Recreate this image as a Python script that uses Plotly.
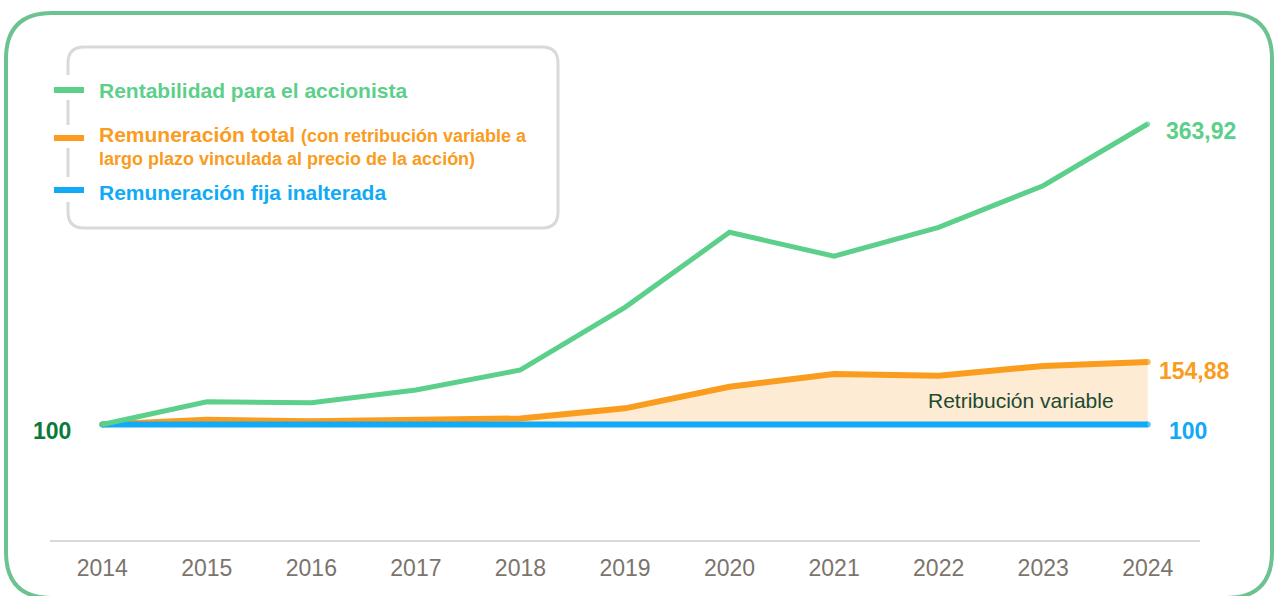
import plotly.graph_objects as go

# ---- data -------------------------------------------------------------
years = [2014, 2015, 2016, 2017, 2018, 2019, 2020, 2021, 2022, 2023, 2024]
rentabilidad = [100, 120.0, 119.1, 130.3, 147.9, 202.9, 268.8, 247.8, 273.2, 309.7, 363.92]
remuneracion_total = [100, 104.2, 102.8, 103.4, 105.3, 114.2, 133.2, 144.4, 142.9, 151.4, 154.88]
remuneracion_fija = [100] * len(years)
year_labels = [str(y) for y in years]

end_label_green = "363,92"
end_label_orange = "154,88"
end_label_blue = "100"
start_label = "100"

# ---- styling ----------------------------------------------------------
W, H = 1279, 596
GREEN = "#5CD08A"
ORANGE = "#FA9C1D"
BLUE = "#10AAF6"
FILL = "#FEEBD3"
DARK_GREEN = "#0B7A38"
BORDER_GREEN = "#6CC391"
GRID_GRAY = "#D9D9D9"
TICK_GRAY = "#7B746D"
FONT = "Liberation Sans, Arial, sans-serif"


def px(x):
    return x / W


def py(y):
    return 1 - y / H


fig = go.Figure()

# shaded band between fixed pay and total pay
fig.add_trace(go.Scatter(x=years, y=remuneracion_fija, mode="lines",
                         line=dict(width=0, color=FILL), hoverinfo="skip",
                         showlegend=False))
fig.add_trace(go.Scatter(x=years, y=remuneracion_total, mode="lines",
                         line=dict(width=0, color=FILL), fill="tonexty",
                         fillcolor=FILL, hoverinfo="skip", showlegend=False))


def cap_sizes(n, w):
    return [w] + [0] * (n - 2) + [w]


def series_line(y, color, width):
    return go.Scatter(x=years, y=y, mode="lines+markers",
                      line=dict(width=width, color=color),
                      marker=dict(size=cap_sizes(len(years), width), color=color,
                                  line=dict(width=0)),
                      showlegend=False)


fig.add_trace(series_line(remuneracion_total, ORANGE, 6))
fig.add_trace(series_line(remuneracion_fija, BLUE, 6))
fig.add_trace(series_line(rentabilidad, GREEN, 5))

annotations = []
# end-of-line value labels
annotations.append(dict(x=years[-1], y=rentabilidad[-1], xref="x", yref="y",
                        text=f"<b>{end_label_green}</b>", showarrow=False,
                        xanchor="left", yanchor="middle", xshift=16, yshift=-7,
                        font=dict(size=23, color=GREEN, family=FONT)))
annotations.append(dict(x=years[-1], y=remuneracion_total[-1], xref="x", yref="y",
                        text=f"<b>{end_label_orange}</b>", showarrow=False,
                        xanchor="left", yanchor="middle", xshift=9, yshift=-9,
                        font=dict(size=23, color=ORANGE, family=FONT)))
annotations.append(dict(x=years[-1], y=remuneracion_fija[-1], xref="x", yref="y",
                        text=f"<b>{end_label_blue}</b>", showarrow=False,
                        xanchor="left", yanchor="middle", xshift=19, yshift=-6,
                        font=dict(size=23, color=BLUE, family=FONT)))
annotations.append(dict(x=years[0], y=remuneracion_fija[0], xref="x", yref="y",
                        text=f"<b>{start_label}</b>", showarrow=False,
                        xanchor="right", yanchor="middle", xshift=-29, yshift=-6,
                        font=dict(size=23, color=DARK_GREEN, family=FONT)))
annotations.append(dict(x=years[-1], y=remuneracion_fija[-1], xref="x", yref="y",
                        text="Retribución variable", showarrow=False,
                        xanchor="right", yanchor="middle", xshift=-32, yshift=24,
                        font=dict(size=21, color="#1D4A30", family=FONT)))

# legend entries
legend_rows = [
    (91, GREEN, "<b>Rentabilidad para el accionista</b>"),
    (134, ORANGE, "<b>Remuneración total</b> <span style='font-size:18px'><b>(con retribución variable a</b></span>"),
    (159, ORANGE, "<span style='font-size:18px'><b>largo plazo vinculada al precio de la acción)</b></span>"),
    (192, BLUE, "<b>Remuneración fija inalterada</b>"),
]
for y, col, txt in legend_rows:
    annotations.append(dict(x=px(97), y=py(y), xref="paper", yref="paper",
                            text=txt, showarrow=False, xanchor="left",
                            yanchor="middle",
                            font=dict(size=21, color=col, family=FONT)))

shapes = []


def rounded_rect_path(x0, y0, x1, y1, r):
    return (f"M {px(x0)},{py(y0 + r)} Q {px(x0)},{py(y0)} {px(x0 + r)},{py(y0)} "
            f"L {px(x1 - r)},{py(y0)} Q {px(x1)},{py(y0)} {px(x1)},{py(y0 + r)} "
            f"L {px(x1)},{py(y1 - r)} Q {px(x1)},{py(y1)} {px(x1 - r)},{py(y1)} "
            f"L {px(x0 + r)},{py(y1)} Q {px(x0)},{py(y1)} {px(x0)},{py(y1 - r)} Z")


# outer frame
shapes.append(dict(type="path", xref="paper", yref="paper",
                   path=rounded_rect_path(6, 13, 1272, 598, 46),
                   line=dict(color=BORDER_GREEN, width=4), layer="below"))

# legend box, open on the left where the swatches sit
lx0, ly0, lx1, ly1, lr = 68, 47, 558, 228, 16
legend_path = (f"M {px(lx0)},{py(75)} L {px(lx0)},{py(ly0 + lr)} "
               f"Q {px(lx0)},{py(ly0)} {px(lx0 + lr)},{py(ly0)} "
               f"L {px(lx1 - lr)},{py(ly0)} Q {px(lx1)},{py(ly0)} {px(lx1)},{py(ly0 + lr)} "
               f"L {px(lx1)},{py(ly1 - lr)} Q {px(lx1)},{py(ly1)} {px(lx1 - lr)},{py(ly1)} "
               f"L {px(lx0 + lr)},{py(ly1)} Q {px(lx0)},{py(ly1)} {px(lx0)},{py(ly1 - lr)} "
               f"L {px(lx0)},{py(202)}")
shapes.append(dict(type="path", xref="paper", yref="paper", path=legend_path,
                   line=dict(color=GRID_GRAY, width=3)))
for a, b in [(100, 125), (148, 177)]:
    shapes.append(dict(type="line", xref="paper", yref="paper",
                       x0=px(lx0), x1=px(lx0), y0=py(a), y1=py(b),
                       line=dict(color=GRID_GRAY, width=3)))
for y, col in [(90, GREEN), (138, ORANGE), (190, BLUE)]:
    shapes.append(dict(type="line", xref="paper", yref="paper",
                       x0=px(54), x1=px(84), y0=py(y), y1=py(y),
                       line=dict(color=col, width=6)))

fig.update_layout(
    width=W, height=H,
    margin=dict(l=0, r=0, t=0, b=0),
    paper_bgcolor="white", plot_bgcolor="white",
    showlegend=False,
    annotations=annotations,
    shapes=shapes,
    xaxis=dict(domain=[px(50), px(1200)], range=[2013.5, 2024.5],
               tickmode="array", tickvals=years, ticktext=year_labels,
               showgrid=False, zeroline=False, showline=True,
               linecolor=GRID_GRAY, linewidth=2, ticks="",
               ticklabelstandoff=7,
               tickfont=dict(size=23, color=TICK_GRAY, family=FONT)),
    yaxis=dict(domain=[py(539.5), py(40)], range=[-1.0, 437.7],
               showgrid=False, zeroline=False, showline=False,
               showticklabels=False, ticks=""),
)

fig.write_html("out.html")
